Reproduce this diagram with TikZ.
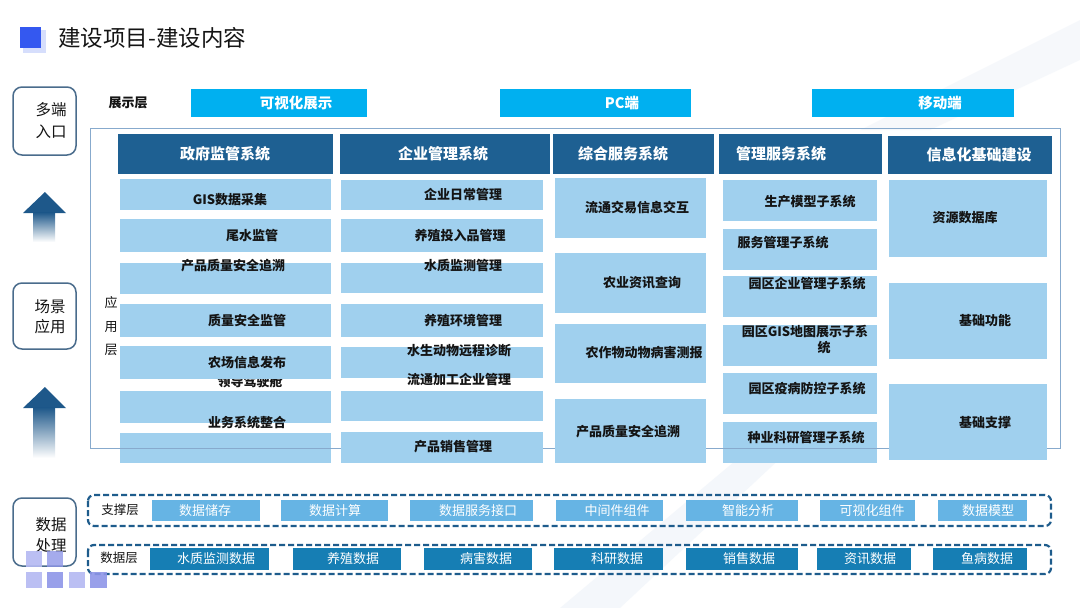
\documentclass[tikz,border=0pt]{standalone}
\usepackage{fontspec}
\setmainfont{Noto Sans CJK SC}
\definecolor{hdrblue}{RGB}{30,96,146}
\definecolor{lboxc}{RGB}{160,208,238}
\definecolor{cyanbar}{RGB}{0,176,240}
\definecolor{supbox}{RGB}{102,180,228}
\definecolor{datbox}{RGB}{22,126,180}
\definecolor{dashc}{RGB}{30,92,140}
\definecolor{framec}{RGB}{135,170,205}
\definecolor{leftc}{RGB}{74,108,140}
\definecolor{arrowc}{RGB}{30,88,138}
\definecolor{titleblue}{RGB}{52,88,240}
\definecolor{sqlight}{RGB}{180,185,242}
\definecolor{sqdark}{RGB}{143,150,232}
\definecolor{txtc}{RGB}{20,20,20}
\definecolor{sweep}{RGB}{238,243,249}
\newcommand\rbox[6]{\node[#1, minimum width=#5pt, minimum height=#6pt] (#2) at (#3,#4) {};}
\begin{document}
\begin{tikzpicture}[x=1pt,y=-1pt,
  hdr/.style={fill=hdrblue, inner sep=0pt, outer sep=0pt},
  lb/.style={fill=lboxc, inner sep=0pt, outer sep=0pt},
  bar/.style={fill=cyanbar, inner sep=0pt, outer sep=0pt},
  sb/.style={fill=supbox, inner sep=0pt, outer sep=0pt},
  db/.style={fill=datbox, inner sep=0pt, outer sep=0pt},
  lt/.style={text=txtc, inner sep=0pt, font=\bfseries\fontsize{13}{15}\selectfont},
  ht/.style={text=white, inner sep=0pt, font=\bfseries\fontsize{15}{18}\selectfont},
  bt/.style={text=white, inner sep=0pt, font=\bfseries\fontsize{14.5}{17}\selectfont},
  wt/.style={text=white, inner sep=0pt, font=\fontsize{13}{15}\selectfont},
  layt/.style={text=txtc, inner sep=0pt, font=\fontsize{12.5}{15}\selectfont},
  side/.style={draw=leftc, line width=1.5pt, rounded corners=9pt, fill=white, inner sep=0pt},
  sidet/.style={text=txtc, inner sep=0pt, align=center},
  dbox/.style={draw=dashc, line width=2.2pt, dash pattern=on 6pt off 3pt, rounded corners=6pt}
]
\useasboundingbox (0,0) rectangle (1080,608);
\fill[white] (0,0) rectangle (1080,608);
% faint background sweeps
\fill[sweep, opacity=0.6] (560,608) -- (760,440) -- (800,440) -- (620,608) -- cycle;
\fill[sweep, opacity=0.5] (860,130) -- (1080,20) -- (1080,60) -- (930,130) -- cycle;

% title
\fill[titleblue!20] (23,30) rectangle (46,53);
\fill[titleblue] (20,27) rectangle (41,48);
\node[anchor=west, inner sep=0pt, text=txtc, font=\fontsize{22.5}{26}\selectfont] (title) at (58,38) {建设项目-建设内容};

% left side boxes
\node[side, minimum width=63pt, minimum height=68pt] (s1) at (44.5,121) {};
\node[sidet, font=\fontsize{15.5}{22}\selectfont] (s1t) at (51,121) {多端\\入口};
\node[side, minimum width=63pt, minimum height=66pt] (s2) at (44.5,316) {};
\node[sidet, font=\fontsize{15.5}{20}\selectfont] (s2t) at (50,317) {场景\\应用};
\node[side, minimum width=63pt, minimum height=68pt] (s3) at (44.5,532) {};
\node[sidet, font=\fontsize{15.5}{21}\selectfont] (s3t) at (51,535.5) {数据\\处理};

% arrows
\fill[arrowc] (23,213) -- (45,192) -- (66,213) -- cycle;
\shade[top color=arrowc, bottom color=white] (33,212.5) rectangle (55,242);
\fill[arrowc] (23,408) -- (45,387) -- (66,408) -- cycle;
\shade[top color=arrowc, bottom color=white] (33,407.5) rectangle (55,458);

% display layer
\node[inner sep=0pt, text=txtc, font=\bfseries\fontsize{13}{15}\selectfont] (zsc) at (128,103) {展示层};
\rbox{bar}{b1}{279}{103}{176}{28}
\rbox{bar}{b2}{595.5}{103}{191}{28}
\rbox{bar}{b3}{913}{103}{202}{28}
\node[bt] (b1t) at (296,103) {可视化展示};
\node[bt] (b2t) at (622,103) {PC端};
\node[bt] (b3t) at (940,103) {移动端};

% headers
\rbox{hdr}{h1}{225.5}{154}{215}{40}
\rbox{hdr}{h2}{445}{154}{210}{40}
\rbox{hdr}{h3}{633.5}{154}{161}{40}
\rbox{hdr}{h4}{800.5}{154}{163}{40}
\rbox{hdr}{h5}{970}{155}{164}{38}
\node[ht] (h1t) at (225,154) {政府监管系统};
\node[ht] (h2t) at (443,154) {企业管理系统};
\node[ht] (h3t) at (623,154) {综合服务系统};
\node[ht] (h4t) at (781,154) {管理服务系统};
\node[ht] (h5t) at (979,155) {信息化基础建设};

% hidden text behind box
\node[lt] (t1h) at (250,382) {领导驾驶舱};

% column 1
\rbox{lb}{c11}{225.5}{194.5}{211}{31}
\rbox{lb}{c12}{225.5}{235.5}{211}{33}
\rbox{lb}{c13}{225.5}{278.5}{211}{31}
\rbox{lb}{c14}{225.5}{320.5}{211}{33}
\rbox{lb}{c15}{225.5}{362.5}{211}{33}
\rbox{lb}{c16}{225.5}{407}{211}{32}
\rbox{lb}{c17}{225.5}{448}{211}{30}
% column 4
\rbox{lb}{c41}{800}{200.5}{154}{41}
\rbox{lb}{c42}{800}{249.5}{154}{41}
\rbox{lb}{c43}{800}{296.5}{154}{41}
\rbox{lb}{c44}{800}{345.5}{154}{41}
\rbox{lb}{c45}{800}{393.5}{154}{41}
\rbox{lb}{c46}{800}{442.5}{154}{41}

% application layer frame
\draw[framec, line width=1pt] (90,128) rectangle (1060,448);
\node[inner sep=0pt, align=center, text=txtc, font=\fontsize{13}{23.5}\selectfont] (yyc) at (111,326.5) {应\\用\\层};

% column 2
\rbox{lb}{c21}{442}{195}{202}{30}
\rbox{lb}{c22}{442}{235.5}{202}{33}
\rbox{lb}{c23}{442}{278}{202}{30}
\rbox{lb}{c24}{442}{320.5}{202}{33}
\rbox{lb}{c25}{442}{362.5}{202}{31}
\rbox{lb}{c26}{442}{406}{202}{30}
\rbox{lb}{c27}{442}{447.5}{202}{31}
% column 3
\rbox{lb}{c31}{630.5}{208}{151}{60}
\rbox{lb}{c32}{630.5}{283}{151}{60}
\rbox{lb}{c33}{630.5}{353.5}{151}{59}
\rbox{lb}{c34}{630.5}{431}{151}{64}
% column 5
\rbox{lb}{c51}{968}{218.5}{158}{77}
\rbox{lb}{c52}{968}{321}{158}{76}
\rbox{lb}{c53}{968}{422}{158}{76}

% texts column 1
\node[lt] (t11) at (230,200) {GIS数据采集};
\node[lt] (t12) at (252,236) {尾水监管};
\node[lt] (t13) at (233,266) {产品质量安全追溯};
\node[lt] (t14) at (247,321) {质量安全监管};
\node[lt] (t15) at (247,363) {农场信息发布};
\node[lt] (t16) at (247,423) {业务系统整合};
% texts column 2
\node[lt] (t21) at (463,195) {企业日常管理};
\node[lt] (t22) at (460,236) {养殖投入品管理};
\node[lt] (t23) at (463,265) {水质监测管理};
\node[lt] (t24) at (463,321) {养殖环境管理};
\node[lt] (t25) at (459,351) {水生动物远程诊断};
\node[lt] (t25b) at (459,380) {流通加工企业管理};
\node[lt] (t27) at (453,447) {产品销售管理};
% texts column 3
\node[lt] (t31) at (637,208) {流通交易信息交互};
\node[lt] (t32) at (642,283) {农业资讯查询};
\node[lt] (t33) at (644,353) {农作物动物病害测报};
\node[lt] (t34) at (628,432) {产品质量安全追溯};
% texts column 4
\node[lt] (t41) at (810,202) {生产模型子系统};
\node[lt] (t42) at (783,243) {服务管理子系统};
\node[lt] (t43) at (807,284) {园区企业管理子系统};
\node[lt, align=center, font=\bfseries\fontsize{13}{16}\selectfont] (t44) at (805,340) {园区GIS地图展示子系\\\hspace*{38pt}统};
\node[lt] (t45) at (807,389) {园区疫病防控子系统};
\node[lt] (t46) at (806,438) {种业科研管理子系统};
% texts column 5
\node[lt] (t51) at (965,218) {资源数据库};
\node[lt] (t52) at (985,321) {基础功能};
\node[lt] (t53) at (985,423) {基础支撑};

% support layer
\draw[dbox] (88,495) rectangle (1051,526);
\node[layt] (zcc) at (120,510) {支撑层};
\rbox{sb}{p1}{206}{510.5}{108}{21}
\rbox{sb}{p2}{334.5}{510.5}{107}{21}
\rbox{sb}{p3}{471.5}{510.5}{123}{21}
\rbox{sb}{p4}{609.5}{510.5}{107}{21}
\rbox{sb}{p5}{742}{510.5}{112}{21}
\rbox{sb}{p6}{867.5}{510.5}{95}{21}
\rbox{sb}{p7}{982.5}{510.5}{89}{21}
\node[wt] (p1t) at (205,510.5) {数据储存};
\node[wt] (p2t) at (335,510.5) {数据计算};
\node[wt] (p3t) at (478,510.5) {数据服务接口};
\node[wt] (p4t) at (617,510.5) {中间件组件};
\node[wt] (p5t) at (748,510.5) {智能分析};
\node[wt] (p6t) at (872,510.5) {可视化组件};
\node[wt] (p7t) at (988,510.5) {数据模型};

% data layer
\draw[dbox] (88,545) rectangle (1051,574);
\node[layt] (sjc) at (119,558) {数据层};
\rbox{db}{d1}{209.5}{559}{119}{22}
\rbox{db}{d2}{347}{559}{108}{22}
\rbox{db}{d3}{478}{559}{108}{22}
\rbox{db}{d4}{608.5}{559}{109}{22}
\rbox{db}{d5}{742}{559}{112}{22}
\rbox{db}{d6}{864}{559}{94}{22}
\rbox{db}{d7}{980}{559}{94}{22}
\node[wt] (d1t) at (216,559) {水质监测数据};
\node[wt] (d2t) at (353,559) {养殖数据};
\node[wt] (d3t) at (486,559) {病害数据};
\node[wt] (d4t) at (617,559) {科研数据};
\node[wt] (d5t) at (749,559) {销售数据};
\node[wt] (d6t) at (870,559) {资讯数据};
\node[wt] (d7t) at (987,559) {鱼病数据};

% decorative squares
\fill[sqlight, opacity=0.9] (26,551) rectangle (42,567);
\fill[sqdark, opacity=0.8] (47,551) rectangle (63,567);
\fill[sqlight, opacity=0.9] (26,572) rectangle (42,588);
\fill[sqdark, opacity=0.9] (47,572) rectangle (63,588);
\fill[sqlight, opacity=0.9] (69,572) rectangle (85,588);
\fill[sqdark, opacity=0.9] (90,572) rectangle (107,588);
\end{tikzpicture}
\end{document}
